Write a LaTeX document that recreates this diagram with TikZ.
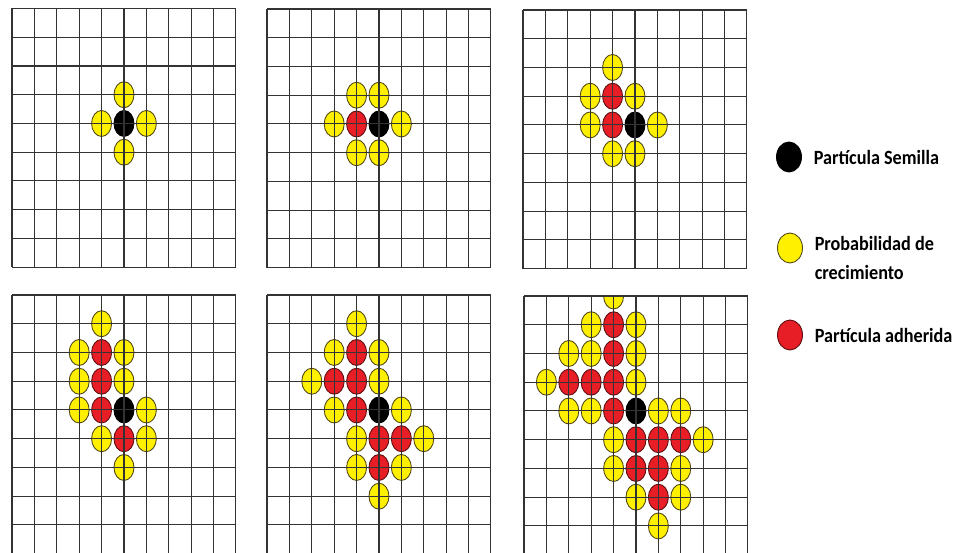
\documentclass[tikz,border=0pt]{standalone}
\usepackage{fontspec}
\usepackage{xcolor}
\usepackage{tikz}
\usetikzlibrary{positioning,shapes.geometric}
\newfontfamily\leyfont[FakeStretch=0.9]{Carlito}
\definecolor{amarillo}{RGB}{255,240,0}
\definecolor{rojo}{RGB}{232,30,38}
\definecolor{oliva}{RGB}{80,72,20}

\begin{document}
\begin{tikzpicture}[x=0.02cm,y=-0.02cm,
  particula/.style={ellipse,draw,line width=0.5pt,minimum width=0.4cm,
                    minimum height=0.52cm,inner sep=0pt},
  semilla/.style={particula,fill=black,draw=black},
  libre/.style={particula,fill=amarillo,draw=oliva},
  pegada/.style={particula,fill=rojo,draw=rojo!40!black},
  linea/.style={draw=black!80,line width=0.6pt},
  etiqueta/.style={font=\leyfont\bfseries\fontsize{11.5}{17}\selectfont,
                   align=left,inner sep=0pt}
]
\useasboundingbox (0,0) rectangle (958,553);
\clip (0,0) rectangle (958,553);
\fill[white] (0,0) rectangle (958,553);
\newcommand\rejilla{%
  \foreach \c in {0,...,10} \draw[linea] (\c,0) -- (\c,9);
  \foreach \f in {0,...,9} \draw[linea] (0,\f) -- (10,\f);}
% paso 1
\begin{scope}[shift={(12,8.5)},x=0.448cm,y=-0.575cm]
\foreach \i/\j [count=\k] in {5/3,4/4,6/4,5/5}
  \node[libre] (p1-y\k) at (\i,\j) {};
\node[semilla] (p1-s) at (5,4) {};
\rejilla
\end{scope}
% paso 2
\begin{scope}[shift={(267,9)},x=0.448cm,y=-0.575cm]
\foreach \i/\j [count=\k] in {4/3,5/3,3/4,6/4,4/5,5/5}
  \node[libre] (p2-y\k) at (\i,\j) {};
\node[pegada] (p2-r1) at (4,4) {};
\node[semilla] (p2-s) at (5,4) {};
\rejilla
\end{scope}
% paso 3
\begin{scope}[shift={(523,10)},x=0.448cm,y=-0.575cm]
\foreach \i/\j [count=\k] in {4/2,3/3,5/3,3/4,6/4,4/5,5/5}
  \node[libre] (p3-y\k) at (\i,\j) {};
\foreach \i/\j [count=\k] in {4/3,4/4}
  \node[pegada] (p3-r\k) at (\i,\j) {};
\node[semilla] (p3-s) at (5,4) {};
\rejilla
\end{scope}
% paso 4
\begin{scope}[shift={(12,295)},x=0.448cm,y=-0.575cm]
\foreach \i/\j [count=\k] in {4/1,3/2,5/2,3/3,5/3,3/4,6/4,4/5,6/5,5/6}
  \node[libre] (p4-y\k) at (\i,\j) {};
\foreach \i/\j [count=\k] in {4/2,4/3,4/4,5/5}
  \node[pegada] (p4-r\k) at (\i,\j) {};
\node[semilla] (p4-s) at (5,4) {};
\rejilla
\end{scope}
% paso 5
\begin{scope}[shift={(267,295)},x=0.448cm,y=-0.575cm]
\foreach \i/\j [count=\k] in {4/1,3/2,5/2,2/3,5/3,3/4,6/4,4/5,7/5,4/6,6/6,5/7}
  \node[libre] (p5-y\k) at (\i,\j) {};
\foreach \i/\j [count=\k] in {4/2,3/3,4/3,4/4,5/5,6/5,5/6}
  \node[pegada] (p5-r\k) at (\i,\j) {};
\node[semilla] (p5-s) at (5,4) {};
\rejilla
\end{scope}
% paso 6
\begin{scope}[shift={(524,296)},x=0.448cm,y=-0.575cm]
\begin{scope}
\clip (-1,0) rectangle (11,9.2);
\foreach \i/\j [count=\k] in {4/0,3/1,5/1,2/2,3/2,5/2,1/3,5/3,2/4,3/4,6/4,7/4,
                              4/5,8/5,4/6,7/6,5/7,7/7,6/8}
  \node[libre] (p6-y\k) at (\i,\j) {};
\foreach \i/\j [count=\k] in {4/1,4/2,2/3,3/3,4/3,4/4,5/5,6/5,7/5,5/6,6/6,6/7}
  \node[pegada] (p6-r\k) at (\i,\j) {};
\node[semilla] (p6-s) at (5,4) {};
\end{scope}
\rejilla
\end{scope}
% leyenda
\node[semilla,minimum width=0.5cm,minimum height=0.6cm] (ley-s) at (789,157) {};
\node[libre,minimum width=0.5cm,minimum height=0.6cm] (ley-p) at (790,248) {};
\node[pegada,minimum width=0.5cm,minimum height=0.6cm] (ley-r) at (790,335) {};
\node[etiqueta,right=0.23cm of ley-s] (txt-s) {Partícula Semilla};
\node[etiqueta,right=0.23cm of ley-p,yshift=-0.2cm] (txt-p) {Probabilidad de\\crecimiento};
\node[etiqueta,right=0.23cm of ley-r] (txt-r) {Partícula adherida};
\end{tikzpicture}
\end{document}
